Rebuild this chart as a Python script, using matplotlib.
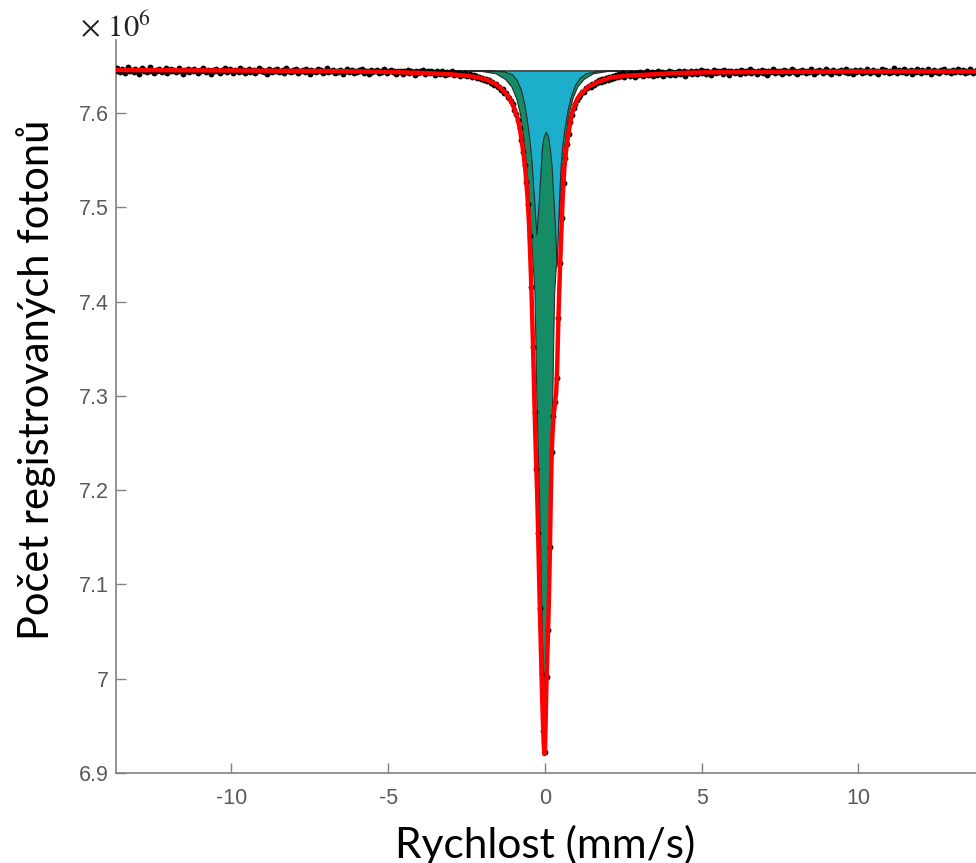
import numpy as np
import matplotlib.pyplot as plt

plt.rcParams['font.family'] = ['Liberation Sans', 'DejaVu Sans']
plt.rcParams['axes.unicode_minus'] = False
plt.rcParams['mathtext.fontset'] = 'stix'

# measured spectrum (counts, x 10^6), 512 channels
counts = [
    7.646, 7.644, 7.648, 7.645, 7.643, 7.647, 7.646, 7.642, 7.645, 7.649, 7.644, 7.646,
    7.643, 7.647, 7.645, 7.641, 7.646, 7.648, 7.644, 7.646, 7.643, 7.645, 7.649, 7.645,
    7.642, 7.646, 7.644, 7.647, 7.645, 7.643, 7.646, 7.648, 7.642, 7.645, 7.647, 7.644,
    7.646, 7.643, 7.645, 7.648, 7.644, 7.641, 7.646, 7.645, 7.647, 7.643, 7.646, 7.644,
    7.647, 7.645, 7.642, 7.646, 7.644, 7.648, 7.645, 7.643, 7.646, 7.644, 7.641, 7.646,
    7.644, 7.647, 7.645, 7.642, 7.646, 7.644, 7.648, 7.643, 7.645, 7.647, 7.644, 7.642,
    7.646, 7.645, 7.643, 7.648, 7.644, 7.646, 7.642, 7.645, 7.647, 7.643, 7.645, 7.646,
    7.642, 7.645, 7.648, 7.644, 7.646, 7.643, 7.645, 7.641, 7.647, 7.645, 7.643, 7.646,
    7.644, 7.647, 7.643, 7.645, 7.646, 7.642, 7.648, 7.644, 7.645, 7.643, 7.646, 7.644,
    7.647, 7.642, 7.645, 7.644, 7.646, 7.643, 7.647, 7.645, 7.641, 7.646, 7.644, 7.645,
    7.643, 7.647, 7.644, 7.646, 7.642, 7.645, 7.648, 7.643, 7.645, 7.644, 7.646, 7.642,
    7.645, 7.643, 7.646, 7.644, 7.641, 7.645, 7.647, 7.643, 7.644, 7.646, 7.642, 7.645,
    7.643, 7.646, 7.644, 7.647, 7.642, 7.644, 7.645, 7.641, 7.646, 7.643, 7.645, 7.644,
    7.646, 7.642, 7.645, 7.643, 7.647, 7.644, 7.642, 7.645, 7.646, 7.643, 7.644, 7.641,
    7.645, 7.643, 7.644, 7.641, 7.645, 7.643, 7.646, 7.642, 7.644, 7.643, 7.640, 7.645,
    7.642, 7.644, 7.643, 7.646, 7.641, 7.643, 7.645, 7.642, 7.644, 7.643, 7.640, 7.644,
    7.643, 7.641, 7.644, 7.642, 7.640, 7.643, 7.641, 7.642, 7.644, 7.640, 7.642, 7.641,
    7.642, 7.639, 7.641, 7.640, 7.642, 7.639, 7.640, 7.641, 7.638, 7.640, 7.639, 7.637,
    # left wing
    7.638, 7.636, 7.637, 7.635, 7.636, 7.634, 7.635, 7.632, 7.633, 7.630, 7.631, 7.627,
    7.628, 7.624, 7.625, 7.621, 7.621, 7.617, 7.616,
    # absorption line
    7.613, 7.609, 7.603, 7.599, 7.592, 7.584, 7.571, 7.559, 7.545, 7.527, 7.503, 7.469,
    7.415, 7.352, 7.283, 7.222, 7.155, 7.075, 7.005, 6.945, 6.922, 7.002, 7.052, 7.140,
    7.240, 7.279, 7.293, 7.319, 7.383, 7.441, 7.489, 7.526, 7.552, 7.567, 7.578, 7.590,
    7.598, 7.605, 7.609, 7.614, 7.617,
    # right wing
    7.619, 7.622, 7.622, 7.626, 7.626, 7.629, 7.628, 7.631, 7.630, 7.633, 7.632, 7.635,
    7.633, 7.636, 7.634, 7.637, 7.635, 7.638, 7.636, 7.639,
    7.637, 7.640, 7.638, 7.641, 7.639, 7.642, 7.638, 7.640, 7.641, 7.639, 7.642, 7.640,
    7.638, 7.642, 7.640, 7.643, 7.641, 7.639, 7.642, 7.644, 7.640, 7.641, 7.643, 7.639,
    7.642, 7.640, 7.644, 7.641, 7.643, 7.639, 7.642, 7.641, 7.644, 7.640, 7.643, 7.642,
    7.640, 7.643, 7.645, 7.641, 7.642, 7.644, 7.639, 7.643, 7.642, 7.645, 7.641, 7.643,
    7.644, 7.641, 7.643, 7.646, 7.642, 7.644, 7.641, 7.645, 7.643, 7.640, 7.644, 7.646,
    7.642, 7.644, 7.643, 7.645, 7.641, 7.646, 7.643, 7.644, 7.640, 7.645, 7.643, 7.642,
    7.645, 7.643, 7.641, 7.646, 7.644, 7.642, 7.645, 7.643, 7.647, 7.642, 7.644, 7.643,
    7.641, 7.645, 7.643, 7.646, 7.642, 7.644, 7.640, 7.645, 7.643, 7.644, 7.647, 7.642,
    7.644, 7.643, 7.645, 7.641, 7.646, 7.643, 7.644, 7.642, 7.645, 7.647, 7.643, 7.644,
    7.641, 7.645, 7.643, 7.646, 7.644, 7.642, 7.645, 7.643, 7.647, 7.644, 7.641, 7.645,
    7.643, 7.646, 7.644, 7.642, 7.645, 7.647, 7.643, 7.644, 7.641, 7.646, 7.644, 7.643,
    7.645, 7.642, 7.646, 7.644, 7.643, 7.647, 7.642, 7.645, 7.644, 7.641, 7.646, 7.643,
    7.644, 7.646, 7.642, 7.645, 7.643, 7.647, 7.644, 7.642, 7.645, 7.646, 7.643, 7.644,
    7.641, 7.645, 7.647, 7.643, 7.646, 7.644, 7.642, 7.645, 7.643, 7.648, 7.644, 7.642,
    7.646, 7.644, 7.643, 7.647, 7.642, 7.645, 7.644, 7.646, 7.641, 7.645, 7.643, 7.647,
    7.644, 7.642, 7.646, 7.645, 7.643, 7.647, 7.644, 7.641, 7.645, 7.646, 7.643, 7.645,
    7.642, 7.646, 7.644, 7.647, 7.643, 7.645, 7.644, 7.642, 7.646, 7.643, 7.645, 7.647,
    7.643, 7.644, 7.646, 7.642, 7.645, 7.643, 7.647, 7.644, 7.642, 7.645, 7.646, 7.643,
]
assert len(counts) == 512
v_first, v_last = -13.77, 13.824
velocity = np.linspace(v_first, v_last, len(counts))

# total fit
fit_v = [-13.8, -10, -7, -5, -4, -3, -2.5, -2.1, -1.8, -1.55, -1.35, -1.2, -1.08,
         -0.97, -0.87, -0.80, -0.74, -0.68, -0.62, -0.56, -0.51, -0.47, -0.43, -0.40,
         -0.37, -0.34, -0.31, -0.28, -0.25, -0.22, -0.19, -0.16, -0.13, -0.10, -0.07,
         -0.04, -0.02, 0.00, 0.02, 0.05, 0.09, 0.12, 0.14, 0.16, 0.18, 0.20, 0.22,
         0.25, 0.28, 0.32, 0.36, 0.39, 0.42, 0.45, 0.49, 0.53, 0.57, 0.62, 0.68, 0.76,
         0.85, 0.95, 1.05, 1.2, 1.4, 1.7, 2.1, 2.6, 3.2, 4, 5, 7, 10, 13.8]
fit_counts = [7.6455, 7.645, 7.6445, 7.6435, 7.6425, 7.641, 7.6395, 7.6375, 7.6345,
              7.630, 7.6245, 7.619, 7.6125, 7.604, 7.594, 7.583, 7.570, 7.556, 7.538,
              7.513, 7.484, 7.450, 7.412, 7.377, 7.342, 7.300, 7.262, 7.230, 7.200,
              7.160, 7.115, 7.072, 7.034, 6.995, 6.960, 6.932, 6.920, 6.922, 6.950,
              6.999, 7.040, 7.075, 7.105, 7.140, 7.180, 7.215, 7.243, 7.265, 7.280,
              7.292, 7.304, 7.330, 7.370, 7.405, 7.444, 7.479, 7.513, 7.542, 7.562,
              7.580, 7.598, 7.608, 7.616, 7.622, 7.628, 7.633, 7.6375, 7.6395, 7.6405,
              7.642, 7.643, 7.6435, 7.644, 7.644]

# singlet component
singlet_v = [-13.8, -2.62, -2.02, -1.57, -1.27, -1.07, -0.92, -0.80, -0.71, -0.63,
             -0.55, -0.48, -0.41, -0.335, -0.30, -0.275, -0.235, -0.195, -0.16, -0.13,
             -0.10, -0.065, -0.02, 0.025, 0.06, 0.09, 0.12, 0.155, 0.195, 0.235, 0.26,
             0.295, 0.37, 0.44, 0.51, 0.59, 0.67, 0.76, 0.88, 1.03, 1.23, 1.53, 1.98,
             2.58, 13.8]
singlet_counts = [7.645, 7.645, 7.6445, 7.642, 7.636, 7.628, 7.616, 7.600, 7.580, 7.555,
                  7.525, 7.490, 7.450, 7.410, 7.350, 7.300, 7.250, 7.200, 7.150, 7.100,
                  7.050, 7.010, 6.985, 7.010, 7.050, 7.100, 7.150, 7.200, 7.250, 7.300,
                  7.350, 7.410, 7.450, 7.490, 7.525, 7.555, 7.580, 7.600, 7.616, 7.628,
                  7.636, 7.642, 7.6445, 7.645, 7.645]

# doublet component
doublet_v = [-13.8, -1.8, -1.3, -1.05, -0.90, -0.76, -0.65, -0.57, -0.50, -0.43, -0.39,
             -0.35, -0.31, -0.27, -0.23, -0.19, -0.16, -0.13, -0.10, -0.05, 0.03, 0.10,
             0.16, 0.21, 0.24, 0.28, 0.32, 0.35, 0.37, 0.40, 0.43, 0.46, 0.50, 0.56,
             0.63, 0.72, 0.82, 0.95, 1.1, 1.3, 1.7, 2.2, 13.8]
doublet_counts = [7.645, 7.645, 7.644, 7.641, 7.635, 7.624, 7.608, 7.591, 7.573, 7.550,
                  7.530, 7.510, 7.490, 7.471, 7.490, 7.510, 7.527, 7.545, 7.561, 7.574,
                  7.580, 7.575, 7.561, 7.545, 7.527, 7.505, 7.480, 7.458, 7.437, 7.460,
                  7.490, 7.515, 7.545, 7.567, 7.585, 7.603, 7.617, 7.629, 7.637, 7.642,
                  7.6445, 7.645, 7.645]
baseline = 7.645

fig = plt.figure(figsize=(9.76, 8.63), dpi=100)
ax = fig.add_axes([0.1189, 0.1043, 0.8811, 0.8494])

ax.fill_between(singlet_v, baseline, singlet_counts, facecolor='#168c66',
                edgecolor='#2a2a2a', linewidth=0.8, zorder=1)
ax.fill_between(doublet_v, baseline, doublet_counts, facecolor='#1cafcb',
                edgecolor='#2a2a2a', linewidth=0.8, zorder=2)
ax.plot(velocity, counts, 'o', ms=4.2, color='black', mew=0, zorder=3)
ax.plot(fit_v, fit_counts, color='#ff0000', lw=3.2, zorder=4,
        solid_joinstyle='round')

ax.set_xlim(-13.68, 13.75)
ax.set_ylim(6.9, 7.6774)
ax.set_xticks([-10, -5, 0, 5, 10])
ax.set_yticks([6.9, 7.0, 7.1, 7.2, 7.3, 7.4, 7.5, 7.6])
ax.xaxis.set_major_formatter(plt.FormatStrFormatter('%g'))
ax.yaxis.set_major_formatter(plt.FormatStrFormatter('%g'))

for s in ['top', 'right']:
    ax.spines[s].set_visible(False)
for s in ['left', 'bottom']:
    ax.spines[s].set_color('#808080')
    ax.spines[s].set_linewidth(1.2)
ax.tick_params(direction='in', length=7, width=1, color='#808080',
               labelcolor='#5a5a5a', labelsize=15.5)
ax.tick_params(axis='x', pad=11)
ax.tick_params(axis='y', pad=5)

fig.text(0.082, 0.957, r'$\times$ $10^{6}$', fontsize=22, color='#222222')
fig.text(545 / 976, 0.006, 'Rychlost (mm/s)', fontsize=30.5, family='Lato',
         ha='center', va='baseline')
fig.text(0.037, 0.56, 'Počet registrovaných fotonů', fontsize=30, family='Lato',
         rotation=90, ha='center', va='center')

fig.savefig('out.png', dpi=100)
